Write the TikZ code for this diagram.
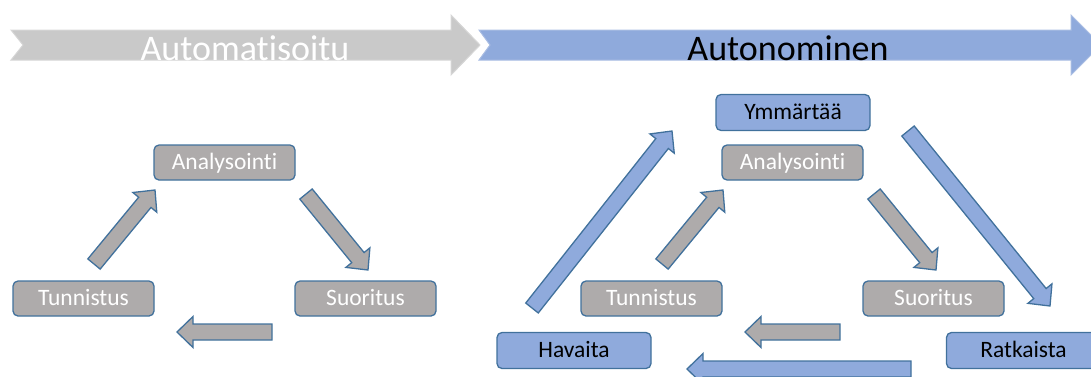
\documentclass[tikz,border=0pt]{standalone}
\usepackage{fontspec}
\setmainfont{Carlito}[Ligatures=NoCommon]
\usetikzlibrary{calc}
\definecolor{boxgray}{HTML}{AEABAB}
\definecolor{boxblue}{HTML}{8FAADC}
\definecolor{edgeblue}{HTML}{41719C}
\definecolor{bannergray}{HTML}{C9C9C9}
\definecolor{bannerline}{HTML}{D6D6D6}
\definecolor{bannerblueline}{HTML}{A9BDE3}
% block arrow: #1 style, #2 tail, #3 tip
\newcommand{\blockarrow}[3]{%
  \coordinate (bh) at ($(#3)!16pt!(#2)$);
  \draw[#1] ($(#2)!8pt!90:(#3)$) -- ($(bh)!8pt!-90:(#2)$) -- ($(bh)!15.5pt!-90:(#2)$)
    -- (#3) -- ($(bh)!15.5pt!90:(#2)$) -- ($(bh)!8pt!90:(#2)$) -- ($(#2)!8pt!-90:(#3)$) -- cycle;}
\begin{document}
\begin{tikzpicture}[x=1pt, y=-1pt,
    graybox/.style={draw=edgeblue, line width=1.3pt, fill=boxgray, rounded corners=5pt,
      minimum width=141pt, minimum height=35pt, inner sep=0pt, text=white,
      text height=16pt, text depth=2pt, font=\fontsize{23.5}{27}\selectfont},
    bluebox/.style={graybox, fill=boxblue, text=black, minimum width=154pt, minimum height=36pt},
    grayarrow/.style={draw=edgeblue, line width=1.3pt, fill=boxgray, line join=miter},
    bluearrow/.style={grayarrow, fill=boxblue},
    bannertext/.style={inner sep=0pt, font=\fontsize{36}{40}\selectfont}]
		\useasboundingbox (0,0) rectangle (1091,376);
		\clip (0,0) rectangle (1091,376);
		
		\draw [fill=bannergray, draw=bannerline, line width=1pt] (11,30) -- (451,30) -- (451,15) -- (480,45)
		  -- (451,75) -- (451,60) -- (11,60) -- (23,45) -- cycle;
		\draw [fill=boxblue, draw=bannerblueline, line width=1pt] (479,30) -- (1071,30) -- (1071,15) -- (1101,45)
		  -- (1071,75) -- (1071,60) -- (479,60) -- (490,45) -- cycle;
		\node [bannertext, text=white] (automatisoitu) at (245,48) {Automatisoitu};
		\node [bannertext, text=black] (autonominen) at (788,48) {Autonominen};
		
		\node [graybox] (lana) at (224.5,162.5) {Analysointi};
		\node [graybox] (ltun) at (83.5,298.5) {Tunnistus};
		\node [graybox] (lsuo) at (365.5,298.5) {Suoritus};
		
		\node [graybox] (rana) at (792.5,162.5) {Analysointi};
		\node [graybox] (rtun) at (651.5,298.5) {Tunnistus};
		\node [graybox] (rsuo) at (933.5,298.5) {Suoritus};
		
		\node [bluebox] (ymm) at (793,112.5) {Ymmärtää};
		\node [bluebox] (hav) at (574,350.5) {Havaita};
		\node [bluebox] (rat) at (1023.5,350.5) {Ratkaista};
		
		\coordinate (lup-s) at (94,264);
		\coordinate (lup-e) at (155,190);
		\coordinate (ldown-s) at (306,194);
		\coordinate (ldown-e) at (368,270);
		\coordinate (lback-s) at (272,332);
		\coordinate (lback-e) at (177,332);
		
		\coordinate (rup-s) at (662,264);
		\coordinate (rup-e) at (723,190);
		\coordinate (rdown-s) at (874,194);
		\coordinate (rdown-e) at (936,270);
		\coordinate (rback-s) at (840,332);
		\coordinate (rback-e) at (745,332);
		
		\coordinate (bup-s) at (532,308);
		\coordinate (bup-e) at (672,131);
		\coordinate (bdown-s) at (908,131);
		\coordinate (bdown-e) at (1050,306);
		\coordinate (bback-s) at (911,369);
		\coordinate (bback-e) at (687,369);
		
		\blockarrow{grayarrow}{lup-s}{lup-e}
		\blockarrow{grayarrow}{ldown-s}{ldown-e}
		\blockarrow{grayarrow}{lback-s}{lback-e}
		
		\blockarrow{grayarrow}{rup-s}{rup-e}
		\blockarrow{grayarrow}{rdown-s}{rdown-e}
		\blockarrow{grayarrow}{rback-s}{rback-e}
		
		\blockarrow{bluearrow}{bup-s}{bup-e}
		\blockarrow{bluearrow}{bdown-s}{bdown-e}
		\blockarrow{bluearrow}{bback-s}{bback-e}
		
		\end{tikzpicture}
\end{document}
